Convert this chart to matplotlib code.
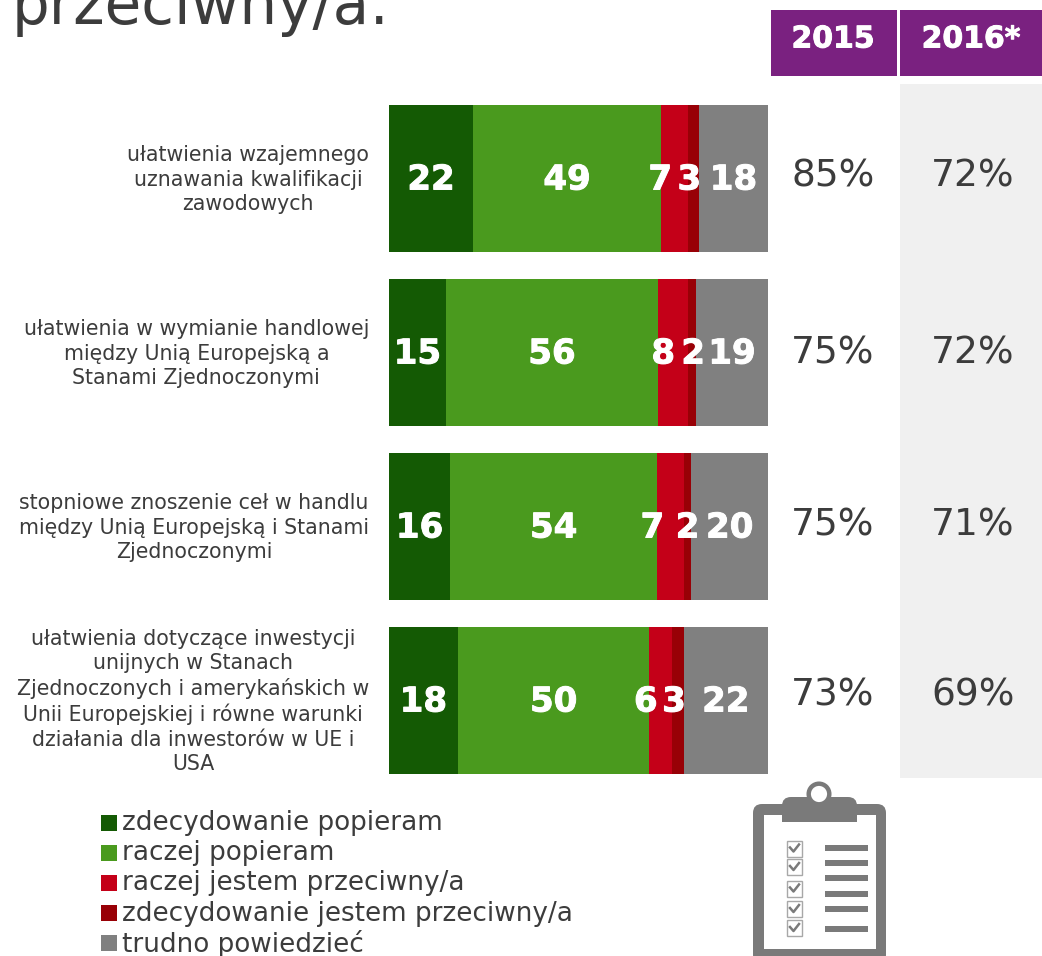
import matplotlib
matplotlib.use("Agg")
import matplotlib.pyplot as plt
import matplotlib.patheffects as pe
from matplotlib.patches import Rectangle, FancyBboxPatch, Circle

plt.rcParams['font.family'] = ['DejaVu Sans']

W, H = 1042, 956

labels = [
    "ułatwienia wzajemnego\nuznawania kwalifikacji\nzawodowych",
    "ułatwienia w wymianie handlowej\nmiędzy Unią Europejską a\nStanami Zjednoczonymi",
    "stopniowe znoszenie ceł w handlu\nmiędzy Unią Europejską i Stanami\nZjednoczonymi",
    "ułatwienia dotyczące inwestycji\nunijnych w Stanach\nZjednoczonych i amerykańskich w\nUnii Europejskiej i równe warunki\ndziałania dla inwestorów w UE i\nUSA",
]
strong_for = [22, 15, 16, 18]
rather_for = [49, 56, 54, 50]
rather_against = [7, 8, 7, 6]
strong_against = [3, 2, 2, 3]
dont_know = [18, 19, 20, 22]
col_2015 = ["85%", "75%", "75%", "73%"]
col_2016 = ["72%", "72%", "71%", "69%"]
years = ["2015", "2016*"]
legend_names = ["zdecydowanie popieram", "raczej popieram", "raczej jestem przeciwny/a",
                "zdecydowanie jestem przeciwny/a", "trudno powiedzieć"]
colors = ["#145a04", "#4a9a1e", "#c40018", "#980006", "#808080"]
title_tail = "przeciwny/a:"

fig = plt.figure(figsize=(W / 100, H / 100), dpi=100)
ax = fig.add_axes([0, 0, 1, 1])
ax.set_xlim(0, W)
ax.set_ylim(H, 0)
ax.axis("off")

ax.text(12, 24, title_tail, fontsize=42.9, color="#3c3c3c", va="baseline")

heavy = [pe.withStroke(linewidth=0.7, foreground="white")]

# header + grey column
ax.add_patch(Rectangle((771, 10), 126, 66, color="#7a2180", lw=0))
ax.add_patch(Rectangle((900, 10), 142, 66, color="#7a2180", lw=0))
ax.add_patch(Rectangle((900, 84), 142, 694, color="#f0f0f0", lw=0))
ax.text(833, 39, years[0], fontsize=21.5, color="white", weight="bold", ha="center", va="center",
        path_effects=heavy)
ax.text(971, 39, years[1], fontsize=21.5, color="white", weight="bold", ha="center", va="center",
        path_effects=heavy)

series = [strong_for, rather_for, rather_against, strong_against, dont_know]
tops = [105, 279, 453, 627]
bar_h = 147
x0, x1 = 389, 768
# the red labels sit off centre in the original
nudge_red = [-14, -10, -18, -15]
nudge_dark = [-4, 1, 0, -4]
pct_y = [176, 354, 526, 696]
for i, top in enumerate(tops):
    total = sum(s[i] for s in series)
    left = x0
    for k, (s, c) in enumerate(zip(series, colors)):
        w = s[i] / total * (x1 - x0)
        ax.barh(top + bar_h / 2, w, height=bar_h, left=left, color=c, lw=0)
        dx = nudge_red[i] if k == 2 else nudge_dark[i] if k == 3 else 0
        ax.text(left + w / 2 + dx, top + 75, str(s[i]), fontsize=24.5, color="white", weight="bold",
                ha="center", va="center", path_effects=heavy)
        left += w
    ax.text(369, top + 74.5, labels[i], fontsize=14.8, color="#3c3c3c", ha="right",
            va="center", multialignment="center", linespacing=1.27)
    ax.text(833, pct_y[i], col_2015[i], fontsize=27, color="#3c3c3c", ha="center", va="center")
    ax.text(973, pct_y[i], col_2016[i], fontsize=27, color="#3c3c3c", ha="center", va="center")

# legend
for j, (name, c) in enumerate(zip(legend_names, colors)):
    y = 822.5 + j * 30.2
    ax.add_patch(Rectangle((101, y - 8), 16, 16, color=c, lw=0))
    ax.text(122, y + 0.5, name, fontsize=18.9, color="#3c3c3c", va="center")

# clipboard icon
grey = "#7a7a7a"
ax.add_patch(FancyBboxPatch((753, 804), 133, 160, boxstyle="round,pad=0,rounding_size=9", fc=grey, lw=0))
ax.add_patch(Rectangle((763.5, 815), 112, 134, color="white", lw=0))
ax.add_patch(FancyBboxPatch((782, 797), 75, 25, boxstyle="round,pad=0,rounding_size=9", fc=grey, lw=0))
ax.add_patch(Rectangle((782, 808), 75, 14, color=grey, lw=0))
ax.add_patch(Circle((819, 794), 10.3, fc="white", ec=grey, lw=3.2))
for y in [848.5, 867, 888.5, 909, 928]:
    ax.add_patch(Rectangle((786.5, y - 8), 15, 16, fc="white", ec="#a8a8a8", lw=1))
    ax.plot([790, 793.5, 799], [y - 1, y + 3, y - 4], color=grey, lw=1.8)
for y in [848, 863, 878, 894, 909, 929]:
    ax.add_patch(Rectangle((825, y - 3), 43, 6, color=grey, lw=0))

fig.savefig("out.png", dpi=100)
